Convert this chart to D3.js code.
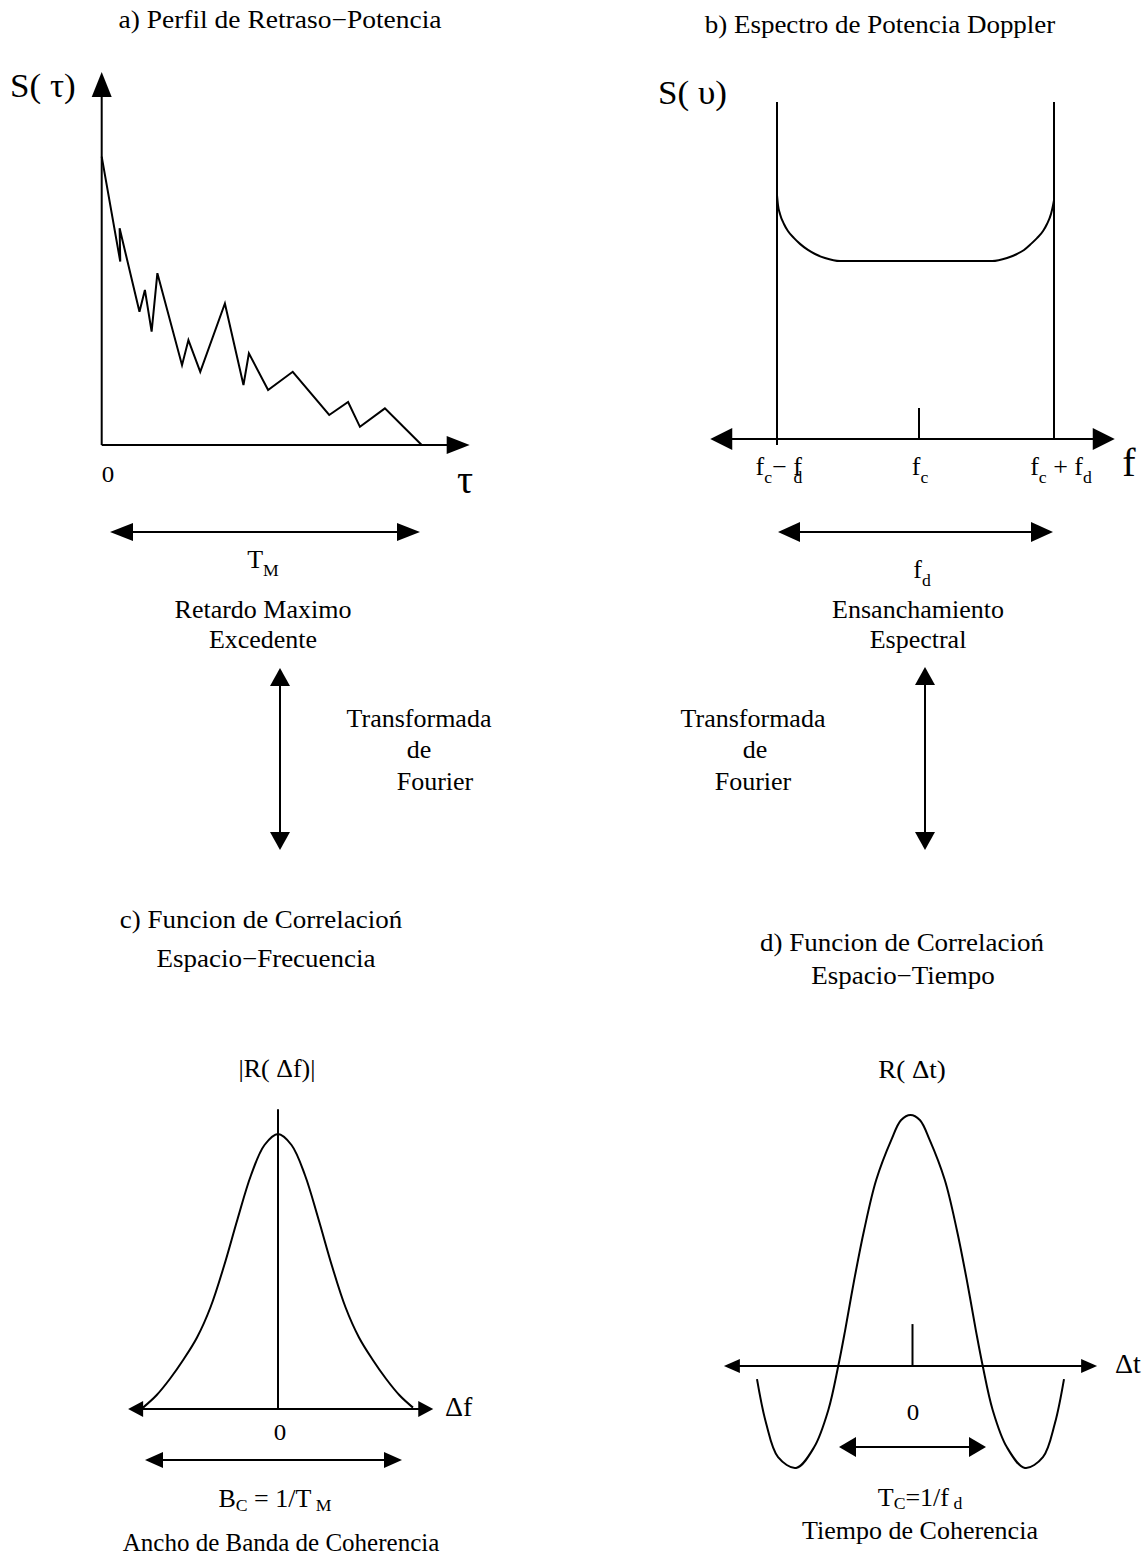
<!DOCTYPE html>
<html>
<head>
<meta charset="utf-8">
<script src="https://cdn.jsdelivr.net/npm/d3@7"></script>
<style>
  body { margin: 0; background: #fff; }
  text { font-family: "Liberation Serif", "Times New Roman", serif; fill: #000; white-space: pre; }
</style>
</head>
<body>
<div id="chart"></div>
<script>
// ---- data ----
// a) delay-power profile (tau in arbitrary units, power normalised)
const tauVals   = [0, 0.58, 0.56, 1.18, 1.35, 1.56, 1.74, 2.51, 2.71, 3.08, 3.85, 4.43, 4.60, 5.20, 5.97, 7.11, 7.70, 8.07, 8.85, 10.0];
const powerVals = [1.0, 0.636, 0.752, 0.462, 0.538, 0.393, 0.596, 0.277, 0.364, 0.254, 0.491, 0.208, 0.318, 0.191, 0.254, 0.104, 0.149, 0.063, 0.127, 0];

// b) Doppler power spectrum (f relative to fc, in units of fd)
const dopFreq  = [-1, -0.993, -0.979, -0.951, -0.923, -0.880, -0.838, -0.782, -0.732, -0.662, -0.556,
                  0.541, 0.652, 0.726, 0.778, 0.830, 0.874, 0.919, 0.948, 0.978, 0.993, 1];
const dopPower = [0.724, 0.694, 0.668, 0.638, 0.617, 0.596, 0.579, 0.561, 0.549, 0.537, 0.528,
                  0.528, 0.537, 0.549, 0.561, 0.579, 0.596, 0.617, 0.638, 0.668, 0.694, 0.709];

// c) spaced-frequency correlation |R(df)|
const dfVals = [-1, -0.9, -0.8, -0.7, -0.6, -0.5, -0.4, -0.3, -0.2, -0.1, 0, 0.1, 0.2, 0.3, 0.4, 0.5, 0.6, 0.7, 0.8, 0.9, 1];
const corrF  = [0.005, 0.05, 0.11, 0.18, 0.26, 0.37, 0.52, 0.69, 0.85, 0.96, 1,
                0.96, 0.85, 0.69, 0.52, 0.37, 0.26, 0.18, 0.11, 0.05, 0.005];

// d) spaced-time correlation R(dt)
const dtVals = [-5.1, -4.8, -4.4, -3.8, -3.2, -2.73, -2.4, -2.17, -1.87, -1.54, -1.14, -0.64, -0.31, 0,
                0.31, 0.64, 1.14, 1.54, 1.87, 2.17, 2.4, 2.73, 3.2, 3.8, 4.4, 4.8, 5.1];
const corrT  = [-0.052, -0.227, -0.363, -0.406, -0.323, -0.175, 0, 0.143, 0.343, 0.542, 0.741, 0.90, 0.98, 1,
                0.98, 0.90, 0.741, 0.542, 0.343, 0.143, 0, -0.175, -0.323, -0.406, -0.363, -0.227, -0.052];

// ---- setup ----
const svgWidth = 1147, svgHeight = 1557;

const svg = d3.select('#chart').append('svg')
  .attr('width', svgWidth)
  .attr('height', svgHeight)
  .style('background', '#fff');

// text with optional subscripts, slightly stretched horizontally like the figure
function label(g, x, y, parts, size, anchor, sx) {
  const t = g.append('text')
    .attr('transform', `translate(${x},${y}) scale(${sx || 1.04},1)`)
    .attr('font-size', size)
    .attr('text-anchor', anchor || 'middle');
  if (typeof parts === 'string') { t.text(parts); return t; }
  let shift = 0;
  parts.forEach(p => {
    const s = p.sub ? Math.round(size * 0.68) : size;
    const target = p.sub ? (p.shift != null ? p.shift : Math.round(size * 0.3)) : 0;
    t.append('tspan')
      .attr('font-size', s)
      .attr('dy', target - shift)
      .attr('dx', p.dx || 0)
      .text(p.t);
    shift = target;
  });
  return t;
}

function head(g, x1, y1, x2, y2, len, half) {
  const dx = x2 - x1, dy = y2 - y1, L = Math.hypot(dx, dy);
  const ux = dx / L, uy = dy / L, nx = -uy, ny = ux;
  const bx = x2 - ux * len, by = y2 - uy * len;
  g.append('path')
    .attr('d', `M${x2},${y2}L${bx + nx * half},${by + ny * half}L${bx - nx * half},${by - ny * half}Z`)
    .attr('fill', '#000');
}

// line with arrowhead(s)
function arrow(g, x1, y1, x2, y2, len, half, both) {
  const dx = x2 - x1, dy = y2 - y1, L = Math.hypot(dx, dy);
  const ux = dx / L, uy = dy / L;
  const sx = both ? x1 + ux * (len - 2) : x1, sy = both ? y1 + uy * (len - 2) : y1;
  g.append('line')
    .attr('x1', sx).attr('y1', sy)
    .attr('x2', x2 - ux * (len - 2)).attr('y2', y2 - uy * (len - 2))
    .attr('stroke', '#000').attr('stroke-width', 2);
  head(g, x1, y1, x2, y2, len, half);
  if (both) head(g, x2, y2, x1, y1, len, half);
}

function plainLine(g, x1, y1, x2, y2) {
  g.append('line')
    .attr('x1', x1).attr('y1', y1).attr('x2', x2).attr('y2', y2)
    .attr('stroke', '#000').attr('stroke-width', 2);
}

function curvePath(g, d) {
  g.append('path')
    .attr('d', d)
    .attr('fill', 'none').attr('stroke', '#000').attr('stroke-width', 2)
    .attr('stroke-linejoin', 'miter');
}

// ===== a) Perfil de Retraso-Potencia =====
const gA = svg.append('g');
const xA = d3.scaleLinear().domain([0, 10]).range([101.7, 421.7]);
const yA = d3.scaleLinear().domain([0, 1]).range([445, 156.7]);

arrow(gA, xA(0), yA(0), xA(11.5), yA(0), 23, 9, false);
arrow(gA, xA(0), yA(0), xA(0), yA(1.294), 25, 10, false);

const lineA = d3.line()
  .x(i => xA(tauVals[i]))
  .y(i => yA(powerVals[i]));
curvePath(gA, lineA(d3.range(tauVals.length)));

label(gA, 280, 28, 'a) Perfil de Retraso\u2212Potencia', 25, 'middle', 1.1);
label(gA, 10, 97, 'S( \u03c4)', 34, 'start', 1.03);
label(gA, 108, 482, '0', 24);
label(gA, 465, 493, '\u03c4', 40, 'middle', 1);

arrow(gA, 110, 532, 420, 532, 23, 9, true);
label(gA, 263, 568, [{t: 'T'}, {t: 'M', sub: true}], 25);
label(gA, 263, 618, 'Retardo Maximo', 25);
label(gA, 263, 648, 'Excedente', 25);

arrow(gA, 280, 668, 280, 850, 18, 10, true);
label(gA, 419, 727, 'Transformada', 25);
label(gA, 419, 758, 'de', 25);
label(gA, 435, 790, 'Fourier', 25);

// ===== b) Espectro de Potencia Doppler =====
const gB = svg.append('g');
const xB = d3.scaleLinear().domain([-1, 0, 1]).range([777, 919, 1054]);
const yB = d3.scaleLinear().domain([0, 1]).range([439, 102]);

arrow(gB, xB(-1.47), yB(0), xB(1.45), yB(0), 22, 11, true);
plainLine(gB, xB(-1), yB(1), xB(-1), yB(0) + 6);
plainLine(gB, xB(1), yB(1), xB(1), yB(0));
plainLine(gB, xB(0), yB(0.092), xB(0), yB(0));

const lineB = d3.line()
  .x(i => xB(dopFreq[i]))
  .y(i => yB(dopPower[i]))
  .curve(d3.curveMonotoneX);
curvePath(gB, lineB(d3.range(dopFreq.length)));

label(gB, 880, 33, 'b) Espectro de Potencia Doppler', 25, 'middle', 1.08);
label(gB, 658, 104, 'S( \u03c5)', 34, 'start', 1.03);

label(gB, xB(-1) + 2, 475, [{t: 'f'}, {t: 'c', sub: true}, {t: '\u2212 f'}, {t: 'd', sub: true, dx: -8}], 25);
label(gB, xB(0) + 1, 475, [{t: 'f'}, {t: 'c', sub: true}], 25);
label(gB, xB(1) + 7, 475, [{t: 'f'}, {t: 'c', sub: true}, {t: ' + f'}, {t: 'd', sub: true}], 25);
label(gB, 1129, 476, 'f', 40, 'middle', 1);

arrow(gB, 778, 532, 1053, 532, 22, 10, true);
label(gB, 922, 578, [{t: 'f'}, {t: 'd', sub: true}], 25);
label(gB, 918, 618, 'Ensanchamiento', 25);
label(gB, 918, 648, 'Espectral', 25);

arrow(gB, 925, 667, 925, 850, 18, 10, true);
label(gB, 753, 727, 'Transformada', 25);
label(gB, 755, 758, 'de', 25);
label(gB, 753, 790, 'Fourier', 25);

// ===== c) Funcion de Correlacion Espacio-Frecuencia =====
const gC = svg.append('g');
const xC = d3.scaleLinear().domain([-1, 1]).range([143, 413]);
const yC = d3.scaleLinear().domain([0, 1]).range([1409, 1134]);

arrow(gC, xC(-1.11), yC(0), xC(1.15), yC(0), 15, 8, true);
plainLine(gC, xC(0), yC(1.09), xC(0), yC(0));

const lineC = d3.line()
  .x(i => xC(dfVals[i]))
  .y(i => yC(corrF[i]))
  .curve(d3.curveCatmullRom.alpha(0.5));
curvePath(gC, lineC(d3.range(dfVals.length)));

label(gC, 261, 928, 'c) Funcion de Correlacio\u0144', 25, 'middle', 1.08);
label(gC, 266, 967, 'Espacio\u2212Frecuencia', 25, 'middle', 1.08);
label(gC, 277, 1077, '|R( \u0394f)|', 25);
label(gC, 445, 1416, '\u0394f', 27, 'start');
label(gC, 280, 1440, '0', 24);

arrow(gC, 145, 1460, 402, 1460, 18, 8, true);
label(gC, 275, 1507, [{t: 'B'}, {t: 'C', sub: true, shift: 4}, {t: ' = 1/T'}, {t: ' M', sub: true, shift: 4}], 25);
label(gC, 281, 1551, 'Ancho de Banda de Coherencia', 25, 'middle', 1.0);

// ===== d) Funcion de Correlacion Espacio-Tiempo =====
const gD = svg.append('g');
const xD = d3.scaleLinear().domain([-5.1, 5.1]).range([757, 1064]);
const yD = d3.scaleLinear().domain([0, 1]).range([1366, 1115]);

arrow(gD, xD(-6.2), yD(0), xD(6.2), yD(0), 16, 7, true);
plainLine(gD, xD(0) + 2, yD(0.167), xD(0) + 2, yD(0));

const lineD = d3.line()
  .x(i => xD(dtVals[i]))
  .y(i => yD(corrT[i]))
  .curve(d3.curveCatmullRom.alpha(0.5));
curvePath(gD, lineD(d3.range(dtVals.length)));

label(gD, 902, 951, 'd) Funcion de Correlacio\u0144', 25, 'middle', 1.08);
label(gD, 903, 984, 'Espacio\u2212Tiempo', 25, 'middle', 1.08);
label(gD, 912, 1078, 'R( \u0394t)', 26);
label(gD, 1115, 1373, '\u0394t', 27, 'start');
label(gD, 913, 1420, '0', 24);

arrow(gD, 839, 1447, 986, 1447, 17, 10, true);
label(gD, 920, 1506, [{t: 'T'}, {t: 'C', sub: true, shift: 3}, {t: '=1/f'}, {t: ' d', sub: true, shift: 3}], 25);
label(gD, 920, 1539, 'Tiempo de Coherencia', 25);
</script>
</body>
</html>
